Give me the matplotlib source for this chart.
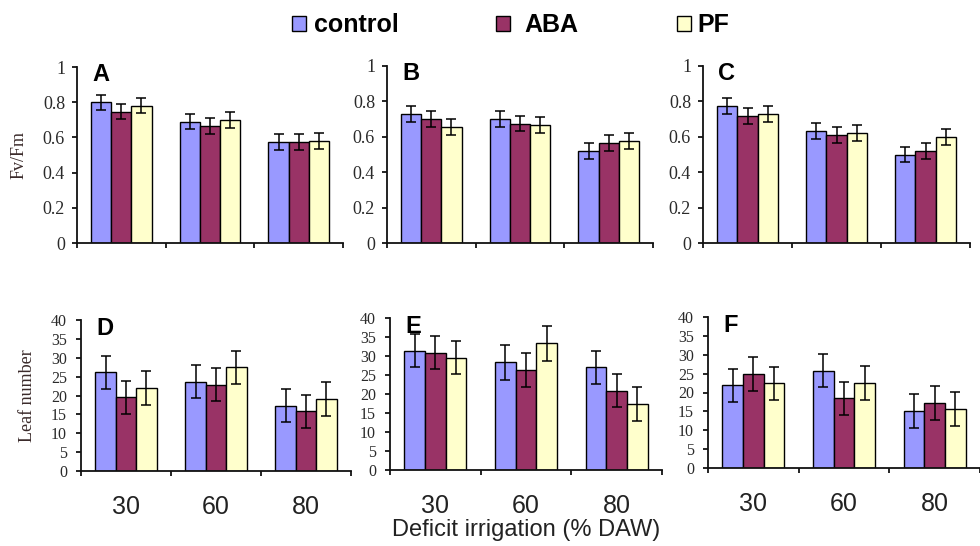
import matplotlib
matplotlib.use("Agg")
import matplotlib.pyplot as plt
from matplotlib.patches import Patch
import numpy as np

categories = ["30", "60", "80"]
series = ["control", "ABA", "PF"]
colors = ["#9999FF", "#993366", "#FFFFCC"]

# Fv/Fm panels (A, B, C)
A_control = [0.80, 0.69, 0.575]
A_aba = [0.745, 0.665, 0.575]
A_pf = [0.78, 0.70, 0.58]
A_err = [0.043, 0.045, 0.045]

B_control = [0.73, 0.70, 0.52]
B_aba = [0.70, 0.675, 0.565]
B_pf = [0.655, 0.665, 0.575]
B_err = [0.045, 0.045, 0.045]

C_control = [0.775, 0.635, 0.50]
C_aba = [0.72, 0.61, 0.52]
C_pf = [0.73, 0.62, 0.60]
C_err = [0.045, 0.045, 0.045]

# Leaf number panels (D, E, F)
D_control = [26.1, 23.7, 17.3]
D_aba = [19.5, 22.9, 15.8]
D_pf = [22.0, 27.5, 19.1]
D_err = [4.4, 4.4, 4.4]

E_control = [31.4, 28.3, 27.0]
E_aba = [30.9, 26.3, 20.9]
E_pf = [29.6, 33.3, 17.4]
E_err = [4.4, 4.5, 4.4]

F_control = [21.9, 25.8, 15.0]
F_aba = [24.9, 18.5, 17.3]
F_pf = [22.4, 22.5, 15.7]
F_err = [4.4, 4.4, 4.5]

top_ticks = [0, 0.2, 0.4, 0.6, 0.8, 1]
top_ticklabels = ["0", "0.2", "0.4", "0.6", "0.8", "1"]
bottom_ticks = list(range(0, 41, 5))

fig = plt.figure(figsize=(9.8, 5.46), dpi=100)

W, H = 980.0, 546.0
def rect(left, right, top, bottom):
    return [left / W, 1 - bottom / H, (right - left) / W, (bottom - top) / H]

panels = [
    ("A", rect(77, 343, 67, 243), [A_control, A_aba, A_pf], A_err, "top"),
    ("B", rect(387, 653, 66, 243), [B_control, B_aba, B_pf], B_err, "top"),
    ("C", rect(703, 970, 66, 243), [C_control, C_aba, C_pf], C_err, "top"),
    ("D", rect(81, 351, 320, 471), [D_control, D_aba, D_pf], D_err, "bottom"),
    ("E", rect(390, 662, 318, 470), [E_control, E_aba, E_pf], E_err, "bottom"),
    ("F", rect(708, 980, 317, 468), [F_control, F_aba, F_pf], F_err, "bottom"),
]

serif = ["Liberation Serif", "DejaVu Serif"]
sans = ["Liberation Sans", "DejaVu Sans"]
tick_color = "#2a2a2a"
bw = 0.227
x = np.arange(len(categories)) + 0.5
axes = {}
for letter, r, vals, err, row in panels:
    ax = fig.add_axes(r)
    axes[letter] = ax
    for i, (v, c) in enumerate(zip(vals, colors)):
        ax.bar(x + (i - 1) * bw, v, width=bw, color=c, edgecolor="black",
               linewidth=1.0, yerr=err, capsize=3.5,
               error_kw=dict(ecolor="black", elinewidth=1.1, capthick=1.1))
    ax.set_xlim(0, 3)
    ax.spines["top"].set_visible(False)
    ax.spines["right"].set_visible(False)
    for s in ("left", "bottom"):
        ax.spines[s].set_linewidth(1.3)
        ax.spines[s].set_color("#111111")
    ax.set_xticks([0, 1, 2, 3])
    ax.set_xticklabels([])
    ax.tick_params(axis="x", which="major", direction="out", length=3.6, width=1.2)
    if row == "top":
        ax.set_ylim(0, 1)
        ax.set_yticks(top_ticks)
        ax.set_yticklabels(top_ticklabels)
        ax.tick_params(axis="y", direction="out", length=3.6, width=1.2,
                       labelsize=13, labelcolor=tick_color, pad=5)
    else:
        ax.set_ylim(0, 40)
        ax.set_yticks(bottom_ticks)
        ax.tick_params(axis="y", direction="out", length=3.6, width=1.2,
                       labelsize=11.5, labelcolor=tick_color, pad=6.5)
        ax.set_xticks(x, minor=True)
        ax.set_xticklabels(categories, minor=True, fontsize=18, family=sans,
                           color="#222222")
        ax.tick_params(axis="x", which="minor", length=0, pad=17)
    for lab in ax.get_yticklabels():
        lab.set_family(serif)
    ax.text(0.058, 1.02, letter, transform=ax.transAxes, fontsize=17,
            fontweight="bold", family=sans, va="top", ha="left")

axes["A"].set_ylabel("Fv/Fm", family=serif, fontsize=13, color="#3a2a2a")
axes["A"].yaxis.set_label_coords(-0.185, 0.5)
axes["D"].set_ylabel("Leaf number", family=serif, fontsize=13, color="#3a2a2a")
axes["D"].yaxis.set_label_coords(-0.165, 0.5)
axes["E"].set_xlabel("Deficit irrigation (% DAW)", family=sans, fontsize=17,
                     color="#222222", labelpad=1)

legend_x = [292, 496, 677]
legend_pad = [0.32, 0.6, 0.28]
for s, c, lx, tp in zip(series, colors, legend_x, legend_pad):
    h = Patch(facecolor=c, edgecolor="black", linewidth=1.0)
    fig.legend([h], [s], loc="center left", bbox_to_anchor=(lx / W, 1 - 25 / H),
               frameon=False, handlelength=0.55, handleheight=0.55,
               handletextpad=tp, borderpad=0, borderaxespad=0,
               prop=dict(family=sans, weight="bold", size=18))

fig.savefig("out.png", dpi=100)
